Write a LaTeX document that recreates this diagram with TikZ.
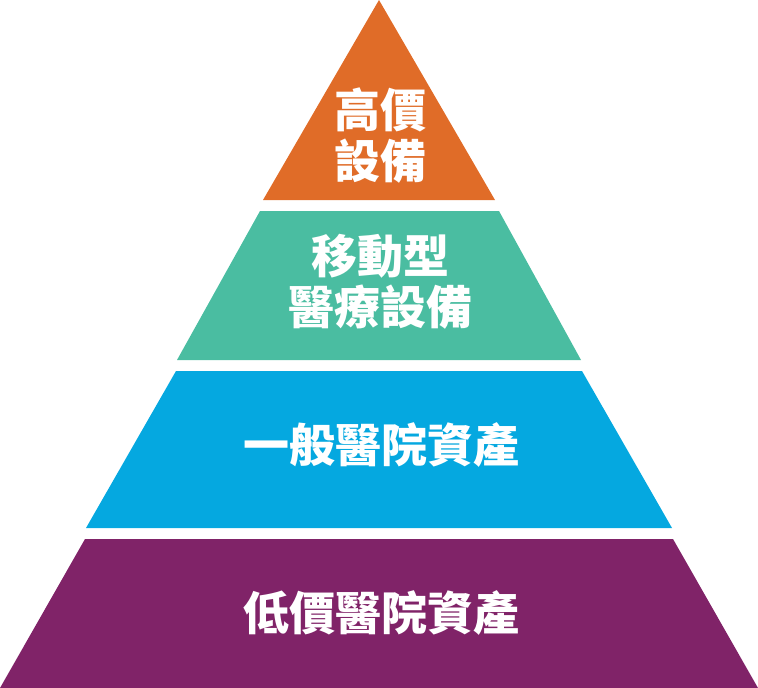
\documentclass[tikz,border=0pt]{standalone}
\usepackage{fontspec}
\usepackage{tikz}
\newfontfamily\tcfont{Noto Sans CJK TC}
\definecolor{tierorange}{HTML}{E06C28}
\definecolor{tierteal}{HTML}{4ABDA1}
\definecolor{tierblue}{HTML}{05A8E0}
\definecolor{tierpurple}{HTML}{802368}

\begin{document}
\begin{tikzpicture}[
      x=1pt, y=-1pt,
      tier/.style={draw=none},
      lbl/.style={
          text=white, align=center,
          inner sep=0pt,
          font=\tcfont\bfseries\fontsize{46}{51}\selectfont
        },
    ]
    \useasboundingbox (0,0) rectangle (758,688);
    % four layers, each drawn on its own with a white gap between
    \fill[tier, tierorange] (379,0) -- (495,200) -- (263,200) -- cycle;
    \fill[tier, tierteal] (260,211) -- (499,211) -- (581,360) -- (177,360) -- cycle;
    \fill[tier, tierblue] (176,371) -- (582,371) -- (672,528) -- (86,528) -- cycle;
    \fill[tier, tierpurple] (85,539) -- (673,539) -- (758,688) -- (0,688) -- cycle;

    \node[lbl] (high) at (380,136) {高價\\設備};
    \node[lbl] (mobile) at (380,282) {移動型\\醫療設備};
    \node[lbl] (general) at (381,445) {一般醫院資產};
    \node[lbl] (low) at (381,613) {低價醫院資產};
  \end{tikzpicture}
\end{document}
